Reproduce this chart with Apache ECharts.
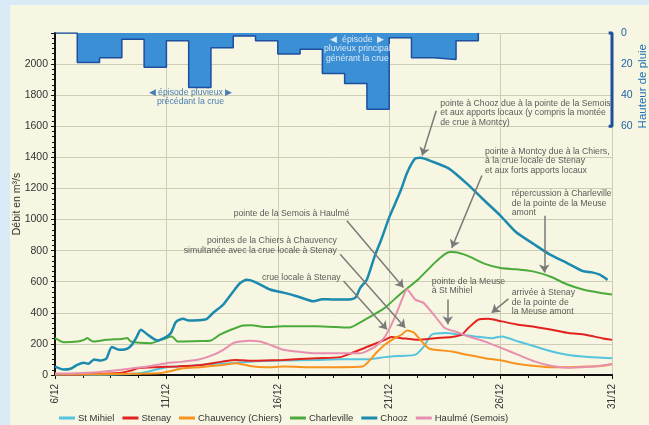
<!DOCTYPE html>
<html>
<head>
<meta charset="utf-8">
<script src="https://cdn.jsdelivr.net/npm/echarts/dist/echarts.min.js"></script>
<style>
  html, body { margin: 0; padding: 0; width: 649px; height: 425px; overflow: hidden; background: #d7eaf6; }
  #panel { position: absolute; left: 10px; top: 5px; width: 639px; height: 420px; background: #f6f6e2; }
  #chart { position: absolute; left: 0; top: 0; width: 649px; height: 425px; }
</style>
</head>
<body>
<div id="panel"></div>
<div id="chart"></div>
<script>
// ---------- DATA ----------
// x = days since 6/12 ; y = discharge m3/s
const xTickStartDay = 6; // 6/12
const seriesNames = ['St Mihiel', 'Stenay', 'Chauvency (Chiers)', 'Charleville', 'Chooz', 'Haulmé (Semois)'];

const stMihiel = [[0,2],[1.5,2],[2.7,3],[3.9,13],[5.0,50],[6.05,58],[6.95,71],[7.85,76],[8.75,86],[10.25,93],[11.75,97],[12.8,101],[14.05,101],[14.8,115],[15.55,123],[16.15,129],[16.55,183],[16.9,259],[17.5,270],[18.25,259],[18.85,248],[19.6,237],[20.05,248],[20.8,215],[21.55,183],[22.3,151],[23.05,129],[23.8,118],[25,108]];

const stenay = [[0,5],[1,3],[2,8],[3,15],[3.4,28],[3.7,43],[4.5,50],[5.5,55],[6.4,62],[7.5,86],[8.1,97],[8.75,92],[10.25,97],[11.75,108],[12.8,115],[13.3,140],[14.05,183],[14.8,226],[15.1,244],[15.55,237],[16.3,226],[17.06,237],[17.8,244],[18.25,259],[18.55,302],[19.0,356],[19.45,362],[20.05,345],[20.8,323],[21.55,309],[22.3,291],[23.05,270],[23.8,259],[24.54,237],[25,226]];

const chauvency = [[0,5],[2,5],[3.5,8],[4.7,11],[5.1,22],[5.75,43],[6.5,50],[7.55,65],[8.15,76],[8.75,58],[9.5,50],[10.25,54],[11.75,50],[12.8,50],[13.8,54],[14.4,140],[14.8,194],[15.25,237],[15.55,259],[15.8,287],[16.1,274],[16.4,226],[16.75,173],[17.06,162],[17.8,151],[18.55,129],[19.3,108],[20.05,93],[20.8,71],[21.55,58],[22.3,50],[23.05,50],[23.8,54],[24.54,58],[25,69]];

const charleville = [[0,237],[0.4,211],[1.0,215],[1.3,226],[1.45,238],[1.6,222],[1.75,215],[2.3,226],[3.0,232],[3.25,238],[3.4,215],[4.3,205],[4.75,226],[5.25,248],[5.5,215],[6.5,218],[7.0,222],[7.4,259],[7.9,291],[8.45,319],[8.8,320],[9.5,308],[10.25,313],[11.75,313],[12.6,309],[13.2,305],[13.6,330],[14.05,367],[14.8,432],[15.55,528],[16.3,615],[17.05,723],[17.5,778],[17.75,791],[18.0,790],[18.5,768],[19.3,715],[20.0,688],[20.7,680],[21.5,665],[22.25,632],[23.0,582],[23.7,550],[24.5,528],[25,518]];

const chooz = [[0,54],[0.4,35],[0.7,40],[1.0,65],[1.3,78],[1.5,72],[1.75,100],[2.05,93],[2.3,105],[2.55,180],[2.8,165],[3.0,162],[3.25,170],[3.45,194],[3.65,240],[3.85,291],[4.2,255],[4.6,222],[5.0,245],[5.2,270],[5.4,335],[5.5,350],[5.75,362],[6.0,350],[6.4,352],[6.8,360],[7.1,400],[7.55,453],[7.95,528],[8.3,590],[8.6,612],[8.75,610],[9.1,590],[9.65,550],[10.25,530],[10.85,507],[11.6,474],[12.0,488],[12.5,485],[13.3,488],[13.5,500],[13.7,561],[14.0,615],[14.35,765],[14.65,873],[15.0,1014],[15.35,1130],[15.55,1200],[15.8,1300],[16.15,1390],[16.4,1397],[16.95,1372],[17.7,1326],[18.5,1229],[19.2,1132],[20.0,1024],[20.7,918],[21.5,841],[22.2,776],[22.95,723],[23.7,668],[24.1,660],[24.45,645],[24.8,612]];

const haulme = [[0,10],[1,12],[2,20],[2.8,30],[3.5,43],[4.3,58],[5.0,75],[5.75,86],[6.5,101],[7.1,129],[7.55,162],[8.0,205],[8.3,215],[8.75,220],[9.2,215],[9.65,194],[10.25,162],[10.85,151],[11.75,140],[12.8,140],[13.7,140],[14.37,183],[14.82,248],[15.27,377],[15.57,485],[15.8,550],[16.17,485],[16.54,464],[17.06,377],[17.5,302],[17.96,280],[18.56,248],[19.3,215],[20.05,173],[20.8,129],[21.55,86],[22.3,58],[23.05,47],[24.2,54],[25,71]];

// daily rainfall (mm), one value per day starting 6/12
const rainValues = [0,19,16,4,22,5,35,9.5,2,5,13.5,10.5,26,32.5,49,3,16,17,5];

const rightAxisLabels = [0,20,40,60];

// ---------- ANNOTATIONS ----------
const annotTexts = [
  {pos:[17.29,1779], align:'left', color:'#333', lines:['pointe à Chooz due à la pointe de la Semois','et aux apports locaux (y compris la montée','de crue à Montcy)']},
  {pos:[19.3,1469], align:'left', color:'#333', lines:['pointe à Montcy due à la Chiers,','à la crue locale de Stenay','et aux forts apports locaux']},
  {pos:[20.5,1197], align:'left', color:'#333', lines:['répercussion à Charleville','de la pointe de la Meuse','amont']},
  {pos:[8.02,1068], align:'left', color:'#333', lines:['pointe de la Semois à Haulmé']},
  {pos:[12.65,893], align:'right', color:'#333', lines:['pointes de la Chiers à Chauvency','simultanée avec la crue locale à Stenay']},
  {pos:[9.29,657], align:'left', color:'#333', lines:['crue locale à Stenay']},
  {pos:[16.91,634], align:'left', color:'#333', lines:['pointe de la Meuse','à St Mihiel']},
  {pos:[20.5,560], align:'left', color:'#333', lines:['arrivée à Stenay','de la pointe de','la Meuse amont']},
  {pos:[6.08,1850], align:'center', color:'#1f5fa8', lines:['◀ épisode pluvieux ▶','précédant la crue']},
  {pos:[13.57,2190], align:'center', color:'#ffffff', lines:['◀  épisode  ▶','pluvieux principal','générant la crue']}
];
const annotArrows = [
  [[17.11,1700],[16.48,1412]],
  [[19.16,1283],[17.81,818]],
  [[21.96,1024],[21.96,660]],
  [[13.1,992],[15.64,563]],
  [[12.8,776],[15.72,304]],
  [[12.95,604],[14.9,293]],
  [[17.63,485],[17.63,326]],
  [[20.35,490],[19.6,401]]
];

const colors = {
  'St Mihiel':'#55c4dc', 'Stenay':'#e3221f', 'Chauvency (Chiers)':'#f7931e',
  'Charleville':'#4aab3a', 'Chooz':'#1b8aae', 'Haulmé (Semois)':'#e78fae'
};
const FONT = "'Liberation Sans Narrow', 'Liberation Sans', sans-serif";

const lineSeries = [stMihiel, stenay, chauvency, charleville, chooz, haulme].map((d, i) => ({
  name: seriesNames[i], type: 'line', data: d, symbol: 'none', smooth: 0.2,
  xAxisIndex: 0, yAxisIndex: 0, z: 3,
  lineStyle: { color: colors[seriesNames[i]], width: seriesNames[i] === 'Chooz' ? 2.5 : 2 },
  itemStyle: { color: colors[seriesNames[i]] }
}));

const rainData = rainValues.map((v, i) => [i, v]).concat([[rainValues.length, 0]]);
const axisEnd = 25;

const option = {
  backgroundColor: 'transparent',
  animation: false,
  textStyle: { fontFamily: FONT },
  grid: { left: 55, right: 37, top: 33, bottom: 50, outerBoundsMode: 'none', containLabel: false },
  legend: {
    data: seriesNames, left: 54, top: 408, icon: 'rect', itemWidth: 16, itemHeight: 3, itemGap: 8,
    textStyle: { fontFamily: FONT, fontSize: 9.5, color: '#333', padding: [0, 0, 0, -2] }
  },
  xAxis: {
    type: 'value', min: 0, max: axisEnd, interval: 5,
    axisLine: { lineStyle: { color: '#111', width: 2 } },
    axisTick: { show: true, length: 4, lineStyle: { color: '#111' } },
    minorTick: { show: true, splitNumber: 4, length: 3, lineStyle: { color: '#111' } },
    splitLine: { show: true, lineStyle: { color: '#cdcdb6', width: 1 } },
    axisLabel: { rotate: 90, margin: 9, fontSize: 10, color: '#333', fontFamily: FONT,
      formatter: v => (xTickStartDay + v) + '/12' }
  },
  yAxis: [
    {
      type: 'value', min: 0, max: 2200, interval: 200,
      name: 'Débit en m³/s', nameLocation: 'middle', nameGap: 32, nameRotate: 90,
      nameMoveOverlap: false,
      nameTextStyle: { fontSize: 10.5, color: '#333', fontFamily: FONT },
      axisLine: { show: true, lineStyle: { color: '#111', width: 2 } },
      axisTick: { show: true, length: 4, lineStyle: { color: '#111' } },
      minorTick: { show: true, splitNumber: 6, length: 3, lineStyle: { color: '#111' } },
      splitLine: { show: true, lineStyle: { color: '#cdcdb6', width: 1 } },
      axisLabel: { fontSize: 10.5, color: '#333', margin: 7, fontFamily: FONT,
        formatter: v => (v >= 2200 ? '' : v) }
    },
    {
      type: 'value', inverse: true, min: 0, max: 220, interval: 20, position: 'right',
      axisLine: { show: false },
      axisTick: { show: false },
      splitLine: { show: false },
      axisLabel: { customValues: rightAxisLabels, fontSize: 10.5, color: '#1f5fa8', margin: 9, fontFamily: FONT }
    }
  ],
  graphic: [
    { type: 'text', left: 637, top: 44, rotation: Math.PI / 2,
      style: { text: 'Hauteur de pluie', fill: '#1f6fb3', font: "11.5px " + FONT } }
  ],
  series: lineSeries.concat([
    {
      name: 'pluie', type: 'line', data: rainData, step: 'end', symbol: 'none',
      xAxisIndex: 0, yAxisIndex: 1, z: 2,
      lineStyle: { color: '#1d4f9e', width: 1.5 },
      areaStyle: { color: '#3b8fd4', opacity: 1 }
    },
    {
      name: 'axe pluie', type: 'line', symbol: 'none', clip: false,
      xAxisIndex: 0, yAxisIndex: 1, z: 4,
      data: [[axisEnd - 0.15, rightAxisLabels[0]], [axisEnd, rightAxisLabels[0]], [axisEnd, rightAxisLabels[rightAxisLabels.length - 1]], [axisEnd - 0.15, rightAxisLabels[rightAxisLabels.length - 1]]],
      lineStyle: { color: '#1d4f9e', width: 3 }
    },
    {
      name: 'flèches', type: 'lines', coordinateSystem: 'cartesian2d', z: 5,
      symbol: ['none', 'arrow'], symbolSize: 8,
      lineStyle: { color: '#7a7a7a', width: 1.5, opacity: 1 },
      data: annotArrows.map(c => ({ coords: c }))
    },
    {
      name: 'notes', type: 'scatter', symbolSize: 0, z: 6, silent: true,
      data: annotTexts.map(a => ({
        value: a.pos,
        label: {
          show: true, position: [0, 0], align: a.align, verticalAlign: 'top',
          formatter: a.lines.join('\n'), color: a.color, fontSize: 8.7, lineHeight: 9.6,
          fontFamily: FONT
        }
      }))
    }
  ])
};

const chart = echarts.init(document.getElementById('chart'), null, { renderer: 'canvas' });
chart.setOption(option);
</script>
</body>
</html>
